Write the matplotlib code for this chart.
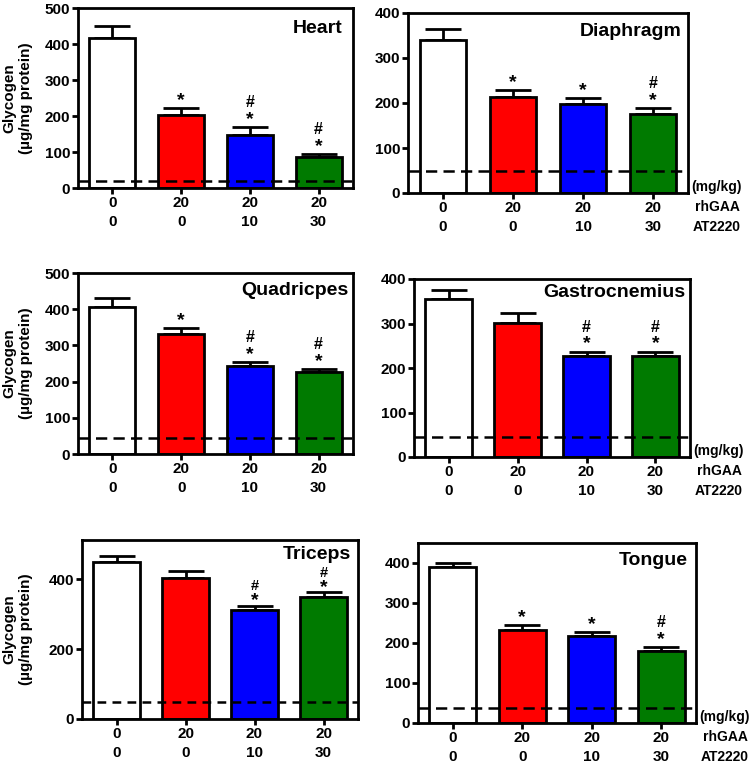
import numpy as np
import matplotlib
matplotlib.use("Agg")
import matplotlib.pyplot as plt
import matplotlib.transforms as mtransforms

plt.rcParams["font.family"] = ["Liberation Sans", "DejaVu Sans"]
plt.rcParams["font.weight"] = "bold"

# groups: rhGAA dose / AT2220 dose (mg/kg)
rhgaa = ["0", "20", "20", "20"]
at2220 = ["0", "0", "10", "30"]
bar_colors = ["white", "#FF0000", "#0000FF", "#007A00"]

tissues = ["Heart", "Diaphragm", "Quadricpes", "Gastrocnemius", "Triceps", "Tongue"]

heart_mean = [417, 204, 148, 86]
heart_err = [32, 18, 21, 8]
diaphragm_mean = [340, 214, 197, 175]
diaphragm_err = [24, 15, 14, 14]
quad_mean = [406, 332, 243, 226]
quad_err = [25, 16, 10, 9]
gastro_mean = [355, 302, 226, 226]
gastro_err = [21, 22, 11, 11]
triceps_mean = [449, 404, 311, 350]
triceps_err = [18, 19, 13, 12]
tongue_mean = [389, 233, 218, 181]
tongue_err = [11, 13, 9, 10]

# untreated wild-type reference level (dashed line)
wt_level = [20, 50, 45, 46, 48, 37]

# significance marks above each bar
heart_sig = ["", "*", "#*", "#*"]
diaphragm_sig = ["", "*", "*", "#*"]
quad_sig = ["", "*", "#*", "#*"]
gastro_sig = ["", "", "#*", "#*"]
triceps_sig = ["", "", "#*", "#*"]
tongue_sig = ["", "*", "*", "#*"]

means = [heart_mean, diaphragm_mean, quad_mean, gastro_mean, triceps_mean, tongue_mean]
errs = [heart_err, diaphragm_err, quad_err, gastro_err, triceps_err, tongue_err]
sigs = [heart_sig, diaphragm_sig, quad_sig, gastro_sig, triceps_sig, tongue_sig]
ymax = [500, 400, 500, 400, 512, 450]
yticks = [np.arange(0, 501, 100), np.arange(0, 401, 100), np.arange(0, 501, 100),
          np.arange(0, 401, 100), [0, 200, 400], np.arange(0, 401, 100)]

W, H = 751, 766
# axes boxes in pixels: left, right, top, bottom
boxes = [(78, 353, 8, 188), (408, 688, 13, 193),
         (78, 353, 273, 454), (414, 690, 279, 457),
         (82, 358, 540, 719), (418, 696, 543, 723)]
# title gap from top / right spine, pixels
title_gap = [(12, 10), (10, 6), (9, 5), (5, 5), (6, 7), (9, 8)]

FS = 11


def shift(dx, dy):
    # offset in inches (dpi 100 -> 1 in = 100 px)
    return mtransforms.ScaledTranslation(dx, dy, fig.dpi_scale_trans)


fig = plt.figure(figsize=(W / 100, H / 100), dpi=100)

x = np.arange(4)
for i, (l, r, t, b) in enumerate(boxes):
    ax = fig.add_axes([l / W, (H - b) / H, (r - l) / W, (b - t) / H])
    ax.bar(x, means[i], width=0.67, color=bar_colors, edgecolor="black",
           linewidth=2.0, zorder=2)
    ax.errorbar(x, means[i], yerr=[np.zeros(4), errs[i]], fmt="none",
                ecolor="black", elinewidth=2.0, capsize=13, capthick=2.0, zorder=1)
    dash = (0, (3.5, 2.5)) if i == 4 else (0, (4.5, 2.5))
    ax.axhline(wt_level[i], color="black", linestyle=dash,
               linewidth=1.8, zorder=3)

    ax.set_xlim(-0.5, 3.5)
    ax.set_ylim(0, ymax[i])
    ax.set_yticks(yticks[i])
    ax.set_xticks(x)
    ax.set_xticklabels(rhgaa)
    ax.tick_params(axis="both", direction="out", length=4, width=2,
                   labelsize=FS, pad=1.5)
    for lab in ax.get_xticklabels() + ax.get_yticklabels():
        lab.set_fontweight("bold")
    for sp in ax.spines.values():
        sp.set_linewidth(2.0)

    # second label row: AT2220 dose
    trans = ax.get_xaxis_transform()
    for xi, a in zip(x, at2220):
        ax.text(xi, 0, a, transform=trans + shift(0, -0.34),
                ha="center", va="center", fontsize=FS, fontweight="bold")

    # significance symbols (triceps panel is packed tighter under its title)
    star_off, hash_off, hash_fs = (-0.035, 0.125, 10.5) if i == 4 else (-0.01, 0.17, 11.5)
    for xi, m, e, s in zip(x, means[i], errs[i], sigs[i]):
        if not s:
            continue
        top = m + e
        if "*" in s:
            ax.text(xi, top, "*", transform=ax.transData + shift(0, star_off),
                    ha="center", va="bottom", fontsize=14, fontweight="bold")
        if "#" in s:
            ax.text(xi, top, "#", transform=ax.transData + shift(0, hash_off),
                    ha="center", va="bottom", fontsize=hash_fs, fontweight="bold")

    gy, gx = title_gap[i]
    ax.text(1, 1, tissues[i], transform=ax.transAxes + shift(-gx / 100, -gy / 100),
            ha="right", va="top", fontsize=14, fontweight="bold")

    if i % 2 == 0:
        fig.text(18 / W, 1 - (t + b) / 2 / H, "Glycogen\n(\u00b5g/mg protein)",
                 rotation=90, ha="center", va="center", fontsize=FS,
                 fontweight="bold", linespacing=1.25)
    else:
        off = ax.transAxes + shift(0.29, 0)
        ax.text(1, 0.035, "(mg/kg)", transform=off, ha="center", va="center",
                fontsize=10, fontweight="bold")
        ax.text(1, 0, "rhGAA", transform=off + shift(0, -0.14),
                ha="center", va="center", fontsize=10, fontweight="bold")
        ax.text(1, 0, "AT2220", transform=off + shift(0, -0.34),
                ha="center", va="center", fontsize=10, fontweight="bold")

fig.savefig("out.png", dpi=100)
plt.close(fig)
